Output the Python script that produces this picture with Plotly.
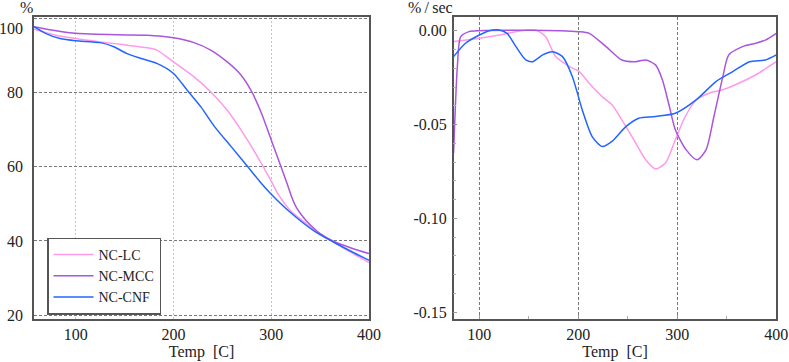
import plotly.graph_objects as go
from plotly.subplots import make_subplots

# ---------------- data ----------------
series_names = ["NC-LC", "NC-MCC", "NC-CNF"]
series_colors = ["#ff99ea", "#aa55dd", "#2266ff"]

# Left panel: mass (%) vs temperature
tga_lc_t = [57.3, 80, 100, 125, 150, 173, 183, 200, 221, 238, 255, 269, 283, 300, 307, 320, 333, 346, 363, 381, 400]
tga_lc_y = [97.0, 95.4, 94.5, 93.6, 92.8, 92.0, 91.4, 88.2, 84.2, 80.2, 75.2, 69.9, 64.0, 56.1, 52.6, 48.1, 45.3, 42.6, 39.9, 37.0, 34.2]

tga_mcc_t = [57.3, 80, 100, 142, 173, 200, 221, 238, 255, 269, 280, 290, 300, 310, 316, 321, 326, 333, 340, 350, 363, 381, 400]
tga_mcc_y = [97.7, 96.6, 95.9, 95.5, 95.4, 94.7, 93.4, 91.4, 88.2, 84.7, 80.2, 74.4, 67.2, 60.0, 55.6, 51.8, 48.9, 46.3, 44.3, 42.0, 40.0, 38.2, 36.6]

tga_cnf_t = [57.3, 69, 84, 100, 125, 139, 152, 166, 183, 200, 214, 228, 242, 259, 276, 288, 300, 320, 346, 363, 381, 400]
tga_cnf_y = [97.7, 95.9, 94.5, 93.9, 93.4, 92.3, 90.5, 89.2, 87.8, 85.1, 80.6, 76.1, 70.8, 65.4, 60.0, 56.1, 52.6, 47.6, 42.3, 39.8, 37.3, 34.8]

# Right panel: derivative (%/sec) vs temperature
dtg_lc_t = [74, 100, 120, 143, 157, 167, 177, 191, 201, 211, 224, 234, 244, 258, 268, 278, 288, 298, 308, 319, 332, 346, 362, 379, 400]
dtg_lc_y = [-0.0058, -0.0040, -0.0023, 0.0000, 0.0004, -0.0032, -0.0138, -0.0191, -0.0218, -0.0280, -0.0351, -0.0395, -0.0475, -0.0599, -0.0688, -0.0737, -0.0705, -0.0581, -0.0457, -0.0369, -0.0333, -0.0315, -0.0280, -0.0236, -0.0165]

dtg_mcc_t = [74, 77.8, 81.2, 89.6, 100, 150, 200, 211, 228, 244, 258, 268, 278, 285, 292, 298, 309, 320, 329, 337, 346, 352, 366, 379, 389, 400]
dtg_mcc_y = [-0.0652, -0.0191, -0.0032, -0.0005, 0.0000, 0.0002, -0.0005, -0.0014, -0.0085, -0.0156, -0.0165, -0.0156, -0.0182, -0.0262, -0.0404, -0.0528, -0.0635, -0.0688, -0.0635, -0.0457, -0.0245, -0.0129, -0.0085, -0.0067, -0.0050, -0.0014]

dtg_cnf_t = [74, 86, 100, 110, 120, 128, 137, 147, 154, 164, 174, 184, 194, 204, 214, 224, 234, 248, 261, 278, 298, 319, 339, 356, 373, 389, 400]
dtg_cnf_y = [-0.0138, -0.0067, -0.0023, 0.0000, 0.0004, -0.0014, -0.0085, -0.0156, -0.0165, -0.0129, -0.0112, -0.0138, -0.0245, -0.0422, -0.0564, -0.0617, -0.0590, -0.0511, -0.0466, -0.0457, -0.0440, -0.0369, -0.0271, -0.0218, -0.0165, -0.0156, -0.0129]

left_ytick_vals = [20, 40, 60, 80, 100]
# the reference prints "100" slightly below the top edge; an empty first line reproduces that
left_ytick_text = ["20", "40", "60", "80", "<br>100"]
right_ytick_vals = [0.0, -0.05, -0.10, -0.15]
right_ytick_text = ["0.00", "-0.05", "-0.10", "-0.15"]
xtick_vals = [100, 200, 300, 400]
xtick_text = ["100", "200", "300", "400"]

left_x_range = [57.3, 400]
left_y_range = [19.0, 100.3]
right_x_range = [74.1, 400]
right_y_range = [-0.1536, 0.0073]

# ---------------- figure ----------------
FONT = "Liberation Serif, Times New Roman, serif"
W, H = 789, 362

fig = make_subplots(rows=1, cols=2)

left_data = [(tga_lc_t, tga_lc_y), (tga_mcc_t, tga_mcc_y), (tga_cnf_t, tga_cnf_y)]
right_data = [(dtg_lc_t, dtg_lc_y), (dtg_mcc_t, dtg_mcc_y), (dtg_cnf_t, dtg_cnf_y)]

for name, color, (tx, ty) in zip(series_names, series_colors, left_data):
    fig.add_trace(go.Scatter(x=tx, y=ty, mode="lines", name=name,
                             line=dict(color=color, width=1.5, shape="spline", smoothing=0.7),
                             showlegend=True), row=1, col=1)
for name, color, (tx, ty) in zip(series_names, series_colors, right_data):
    fig.add_trace(go.Scatter(x=tx, y=ty, mode="lines", name=name,
                             line=dict(color=color, width=1.5, shape="spline", smoothing=0.7),
                             showlegend=False), row=1, col=2)

frame = dict(showline=True, mirror=True, linecolor="#555555", linewidth=1.5, zeroline=False,
             automargin=True, tickfont=dict(family=FONT, size=16, color="#222"))

ydom = [(H - 319) / H, (H - 17) / H]
title_font = dict(family=FONT, size=16, color="#222")

fig.update_layout(
    width=W, height=H,
    margin=dict(l=0, r=0, t=0, b=0, autoexpand=False),
    paper_bgcolor="white", plot_bgcolor="white",
    font=dict(family=FONT, size=16, color="#222"),
    legend=dict(x=47 / W, y=(H - 276) / H, xanchor="left", yanchor="middle",
                bgcolor="white", bordercolor="#555555", borderwidth=1.5,
                font=dict(family=FONT, size=14, color="#222"),
                tracegroupgap=0, itemwidth=40),
    xaxis=dict(domain=[34 / W, 369 / W], range=left_x_range, tickvals=xtick_vals, ticktext=xtick_text,
               showgrid=True, gridcolor="#c4c4c4", griddash="2px,2px", gridwidth=1,
               ticks="", ticklabelstandoff=0,
               title=dict(text="Temp\u00a0 [C]", font=title_font, standoff=2),
               **frame),
    yaxis=dict(domain=ydom, range=left_y_range, tickvals=left_ytick_vals, ticktext=left_ytick_text,
               showgrid=True, gridcolor="#777777", griddash="3px,2px", gridwidth=1,
               ticks="", ticklabelstandoff=6, **frame),
    xaxis2=dict(domain=[453.7 / W, 776.3 / W], range=right_x_range, tickvals=xtick_vals, ticktext=xtick_text,
                showgrid=True, gridcolor="#777777", griddash="3px,2px", gridwidth=1,
                ticks="inside", ticklen=4, tickcolor="#999",
                minor=dict(dtick=50, tick0=0, ticks="inside", ticklen=3, tickcolor="#aaa", showgrid=False),
                ticklabelstandoff=0,
                title=dict(text="Temp\u00a0 [C]", font=title_font, standoff=2),
                **frame),
    yaxis2=dict(domain=ydom, range=right_y_range, tickvals=right_ytick_vals, ticktext=right_ytick_text,
                showgrid=False, ticks="inside", ticklen=4, tickcolor="#999",
                minor=dict(dtick=0.01, tick0=0, ticks="inside", ticklen=3, tickcolor="#aaa", showgrid=False),
                ticklabelstandoff=2, **frame),
)

fig.add_annotation(text="%", x=26 / W, y=1, xref="paper", yref="paper", yshift=3,
                   showarrow=False, xanchor="center", yanchor="top",
                   font=title_font)
fig.add_annotation(text="%\u2009/\u2009sec", x=430 / W, y=1, xref="paper", yref="paper", yshift=3,
                   showarrow=False, xanchor="center", yanchor="top",
                   font=title_font)

fig.write_html("out.html")
